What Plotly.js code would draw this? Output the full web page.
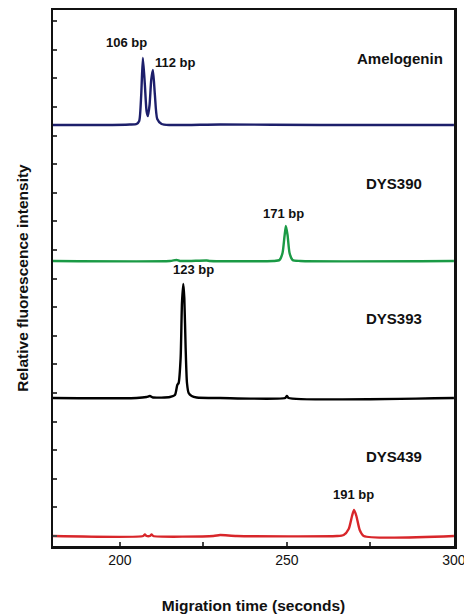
<!DOCTYPE html>
<html><head><meta charset="utf-8">
<script src="https://cdn.plot.ly/plotly-3.0.1.min.js"></script>
<style>body{margin:0;background:#fff}#c{width:464px;height:614px}</style>
</head><body><div id="c"></div>
<script>
var ameloX=[180,195,203,205,205.8,206.4,206.9,207.5,208.0,208.4,208.9,209.4,209.9,210.5,211.2,212.5,215,230,260,300];
var ameloY=[0,0,0.5,1,4,30,67,40,14,9,20,45,55,30,6,1,0,0.5,0,0];
var dys390X=[180,215,217,218,226,227,246,247.8,248.7,249.3,249.7,250.2,250.8,251.7,254,300];
var dys390Y=[0,0,1,0,0.5,0,0,1,8,25,35,26,8,1,0,0];
var dys393X=[180,205,208,209,210,215,216.5,217.2,217.6,218.2,218.6,219.0,219.3,219.7,220.1,220.6,221.5,223,230,249.5,250,250.5,300];
var dys393Y=[0,0,1,2,0.5,1,3,13,15,40,95,114,100,50,15,5,2,0.5,0,0,2,0,0];
var dys439X=[180,207,207.5,208,209,209.5,210,228,230,235,265,267,268.5,269.5,270.1,270.8,271.8,273,300];
var dys439Y=[0,0,1.5,0,0,1.5,0,0,1,0,0,1,7,20,26,20,6,0,0];
var offsets=[421,285,148,10];
var colors=['#1d1f6b','#1a9a45','#000000','#d8262a'];
var names=['Amelogenin','DYS390','DYS393','DYS439'];
var xs=[ameloX,dys390X,dys393X,dys439X], ys=[ameloY,dys390Y,dys393Y,dys439Y];
var traces=xs.map(function(x,i){return {x:x,y:ys[i].map(function(v){return v+offsets[i];}),mode:'lines',line:{color:colors[i],width:2.4,shape:'spline',smoothing:0.6},hoverinfo:'skip',showlegend:false};});
var peakLabels=[['106 bp',202,504],['112 bp',216.8,484],['171 bp',249,333],['123 bp',222,277],['191 bp',270,52]];
var ann=peakLabels.map(function(p){return {x:p[1],y:p[2],text:'<b>'+p[0]+'</b>',showarrow:false,font:{size:13,color:'#111'}};});
var nameX=[284,282,282,282], nameY=[488,363,228,90];
names.forEach(function(n,i){ann.push({x:nameX[i],y:nameY[i],text:'<b>'+n+'</b>',showarrow:false,font:{size:15,color:'#111'}});});
Plotly.newPlot('c',traces,{
 width:464,height:614,margin:{l:53,r:10,t:10,b:68},
 paper_bgcolor:'#fff',plot_bgcolor:'#fff',
 font:{family:'Liberation Sans, Arial, sans-serif',color:'#111'},
 xaxis:{range:[180,300.02],tickvals:[200,225,250,275,300],ticktext:['200','','250','','300'],ticklabeloverflow:'allow',ticks:'inside',ticklen:4,tickwidth:2,showline:true,linewidth:2.5,linecolor:'#111',mirror:true,showgrid:false,zeroline:false,tickfont:{size:14},
  title:{text:'<b>Migration time (seconds)</b>',font:{size:15.5},standoff:34}},
 yaxis:{range:[0,536],tick0:10,dtick:28.6,ticks:'inside',ticklen:4,tickwidth:2,showticklabels:false,showline:true,linewidth:2.5,linecolor:'#111',mirror:true,showgrid:false,zeroline:false,
  title:{text:'<b>Relative fluorescence intensity</b>',font:{size:15.5},standoff:18}},
 annotations:ann
},{staticPlot:true});
</script></body></html>
